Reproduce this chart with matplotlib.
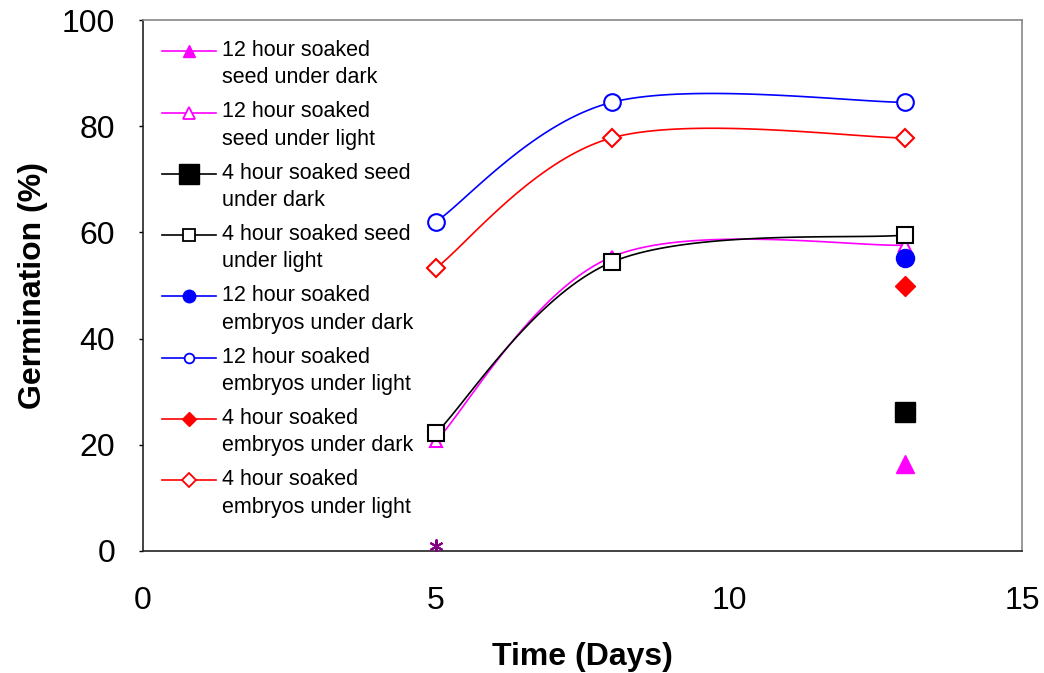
import numpy as np
import matplotlib
matplotlib.use("Agg")
import matplotlib.pyplot as plt
from matplotlib.lines import Line2D
from matplotlib.legend_handler import HandlerLine2D

plt.rcParams['font.family'] = ['Liberation Sans', 'DejaVu Sans']

days = [5, 8, 13]
seed12_light = [20.7, 55.4, 57.6]
seed4_light = [22.2, 54.4, 59.5]
emb12_light = [62.0, 84.5, 84.5]
emb4_light = [53.3, 77.8, 77.8]

dark_day = [13]
seed12_dark = [16.4]
seed4_dark = [26.2]
emb12_dark = [55.2]
emb4_dark = [49.9]

extra_day = [5]
extra_val = [0.9]

labels = [
    "12 hour soaked\nseed under dark",
    "12 hour soaked\nseed under light",
    "4 hour soaked seed\nunder dark",
    "4 hour soaked seed\nunder light",
    "12 hour soaked\nembryos under dark",
    "12 hour soaked\nembryos under light",
    "4 hour soaked\nembryos under dark",
    "4 hour soaked\nembryos under light",
]


def smooth(x, y, n=40):
    """Catmull-Rom style Bezier smoothing through the given points."""
    x = np.asarray(x, float)
    y = np.asarray(y, float)
    px = np.concatenate([[x[0]], x, [x[-1]]])
    py = np.concatenate([[y[0]], y, [y[-1]]])
    xs, ys = [], []
    t = np.linspace(0, 1, n)
    for i in range(1, len(x)):
        p0 = np.array([px[i], py[i]])
        p3 = np.array([px[i + 1], py[i + 1]])
        c1 = p0 + (np.array([px[i + 1], py[i + 1]]) - np.array([px[i - 1], py[i - 1]])) / 6
        c2 = p3 - (np.array([px[i + 2], py[i + 2]]) - np.array([px[i], py[i]])) / 6
        b = ((1 - t) ** 3)[:, None] * p0 + (3 * (1 - t) ** 2 * t)[:, None] * c1 \
            + (3 * (1 - t) * t ** 2)[:, None] * c2 + (t ** 3)[:, None] * p3
        xs.append(b[:, 0])
        ys.append(b[:, 1])
    return np.concatenate(xs), np.concatenate(ys)


class FirstLineHandler(HandlerLine2D):
    """Legend line handle raised to sit beside the first line of a two-line label."""

    def __init__(self, shift, **kw):
        super().__init__(**kw)
        self.shift = shift

    def create_artists(self, legend, orig_handle, xdescent, ydescent,
                       width, height, fontsize, trans):
        return super().create_artists(legend, orig_handle, xdescent,
                                      ydescent - 2 * self.shift, width, height,
                                      fontsize, trans)


fig = plt.figure(figsize=(10.44, 6.73), dpi=100)
ax = fig.add_axes([143 / 1044, 1 - 551 / 673, (1022 - 143) / 1044, (551 - 20) / 673])

lw = 1.2
series = [
    (seed12_light, "#FF00FF", "^", 9),
    (seed4_light, "black", "s", 11),
    (emb12_light, "#0000FF", "o", 12),
    (emb4_light, "#FF0000", "D", 9),
]
for vals, col, mk, ms in series:
    sx, sy = smooth(days, vals)
    ax.plot(sx, sy, color=col, lw=lw, zorder=2)
    ax.plot(days, vals, ls="none", marker=mk, ms=ms, mfc="white", mec=col,
            mew=1.5, zorder=3)

ax.plot(dark_day, emb12_dark, ls="none", marker="o", ms=13, color="#0000FF", zorder=3)
ax.plot(dark_day, emb4_dark, ls="none", marker="D", ms=10, color="#FF0000", zorder=3)
ax.plot(dark_day, seed4_dark, ls="none", marker="s", ms=14, color="black", zorder=3)
ax.plot(dark_day, seed12_dark, ls="none", marker="^", ms=13, color="#FF00FF", zorder=3)
ax.plot(extra_day, extra_val, ls="none", marker=(6, 2, 0), ms=10, mec="#800080",
        mew=1.5, zorder=3)

ax.set_xlim(0, 15)
ax.set_ylim(0, 100)
ax.set_xticks([0, 5, 10, 15])
ax.set_yticks([0, 20, 40, 60, 80, 100])
ax.tick_params(axis="both", labelsize=23, length=3, width=1, direction="out")
ax.tick_params(axis="x", length=0, pad=25)
ax.tick_params(axis="y", pad=17)

for side in ("left", "bottom"):
    ax.spines[side].set_color("#222222")
    ax.spines[side].set_linewidth(1.2)
for side in ("top", "right"):
    ax.spines[side].set_color("#888888")
    ax.spines[side].set_linewidth(1.2)

ax.set_xlabel("Time (Days)", fontsize=23, fontweight="bold")
ax.set_ylabel("Germination (%)", fontsize=23, fontweight="bold")
ax.xaxis.set_label_coords(0.5, -0.172)
ax.yaxis.set_label_coords(-0.108, 0.5)

handles = [
    Line2D([], [], color="#FF00FF", lw=lw, marker="^", ms=8, mfc="#FF00FF", mec="#FF00FF"),
    Line2D([], [], color="#FF00FF", lw=lw, marker="^", ms=8, mfc="white", mec="#FF00FF", mew=1.3),
    Line2D([], [], color="black", lw=lw, marker="s", ms=14, mfc="black", mec="black"),
    Line2D([], [], color="black", lw=lw, marker="s", ms=8, mfc="white", mec="black", mew=1.3),
    Line2D([], [], color="#0000FF", lw=lw, marker="o", ms=9, mfc="#0000FF", mec="#0000FF"),
    Line2D([], [], color="#0000FF", lw=lw, marker="o", ms=7, mfc="white", mec="#0000FF", mew=1.3),
    Line2D([], [], color="#FF0000", lw=lw, marker="D", ms=7, mfc="#FF0000", mec="#FF0000"),
    Line2D([], [], color="#FF0000", lw=lw, marker="D", ms=7, mfc="white", mec="#FF0000", mew=1.3),
]
leg = ax.legend(handles, labels, loc="upper left",
                bbox_to_anchor=((162 - 143) / 879, (551 - 40) / 531),
                frameon=False, fontsize=15.5, handlelength=2.5, handletextpad=0.28,
                labelspacing=0.6, borderaxespad=0, borderpad=0,
                handler_map={Line2D: FirstLineHandler(shift=9.7)})
for txt in leg.get_texts():
    txt.set_linespacing(1.4)

fig.savefig("out.png", dpi=100)
